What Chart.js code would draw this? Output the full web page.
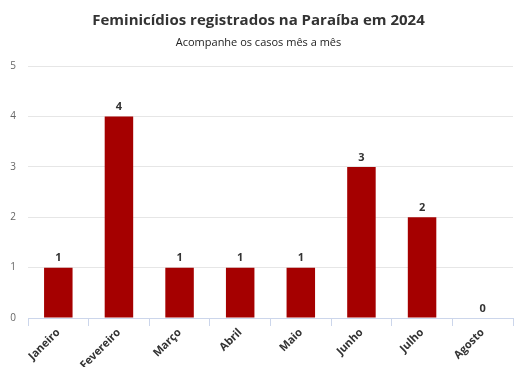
<!DOCTYPE html>
<html>
<head>
<meta charset="utf-8">
<script src="https://cdn.jsdelivr.net/npm/chart.js@4/dist/chart.umd.min.js"></script>
<style>
  html, body { margin: 0; padding: 0; background: #fff; }
  #wrap { width: 524px; height: 371px; }
</style>
</head>
<body>
<div id="wrap"><canvas id="casosGraph"></canvas></div>
<script>
var meses = ["Janeiro", "Fevereiro", "Março", "Abril", "Maio", "Junho", "Julho", "Agosto"];
var casos = [1, 4, 1, 1, 1, 3, 2, 0];
var yTicks = [0, 1, 2, 3, 4, 5];

Chart.defaults.font.family = "'Open Sans', sans-serif";

// numeros em cima das barras
var rotulos = {
  id: 'rotulos',
  afterDatasetsDraw: function(chart) {
    var ctx = chart.ctx;
    var meta = chart.getDatasetMeta(0);
    ctx.save();
    ctx.font = "bold 11px 'Open Sans', sans-serif";
    ctx.fillStyle = "#333333";
    ctx.textAlign = "center";
    ctx.textBaseline = "bottom";
    meta.data.forEach(function(bar, i) {
      ctx.fillText(String(casos[i]), bar.x, bar.y - 4);
    });
    ctx.restore();
  }
};

var ctx = document.getElementById("casosGraph").getContext("2d");
var casosChart = new Chart(ctx, {
  type: 'bar',
  data: {
    labels: meses,
    datasets: [{
      data: casos,
      backgroundColor: "#a50000",
      borderWidth: 0,
      categoryPercentage: 1,
      barPercentage: 0.47
    }]
  },
  plugins: [rotulos],
  options: {
    responsive: true,
    maintainAspectRatio: false,
    animation: false,
    layout: { padding: { left: 4, right: 11, bottom: 4 } },
    plugins: {
      legend: { display: false },
      tooltip: { enabled: false },
      title: {
        display: true,
        text: "Feminicídios registrados na Paraíba em 2024",
        color: "#333333",
        font: { size: 15, weight: 'bold' },
        padding: { top: 12, bottom: 6 }
      },
      subtitle: {
        display: true,
        text: "Acompanhe os casos mês a mês",
        color: "#222222",
        font: { size: 11 },
        padding: { top: 0, bottom: 17 }
      }
    },
    scales: {
      x: {
        grid: { drawOnChartArea: false, color: "#ccd6eb", tickLength: 8, offset: true },
        border: { color: "#ccd6eb" },
        ticks: {
          color: "#333333",
          font: { size: 11, weight: 'bold' },
          minRotation: 45,
          maxRotation: 45,
          padding: 0
        },
        afterFit: function(scale) { scale.height = 49; }
      },
      y: {
        min: 0,
        max: 5,
        afterBuildTicks: function(scale) {
          scale.ticks = yTicks.map(function(v) { return { value: v }; });
        },
        grid: { color: "#e6e6e6", drawTicks: false },
        border: { display: false },
        ticks: { color: "#666666", font: { size: 10 }, padding: 12 },
        afterFit: function(scale) { scale.width = 24; }
      }
    }
  }
});
</script>
</body>
</html>
